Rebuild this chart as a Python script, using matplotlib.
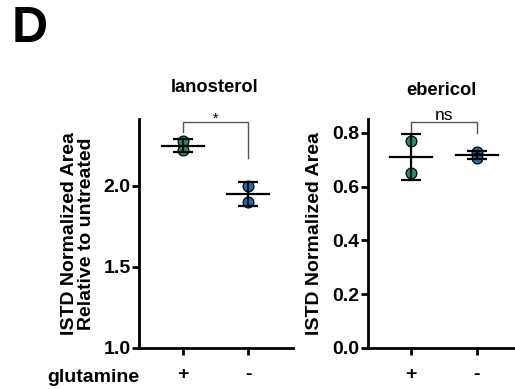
import numpy as np
import matplotlib
matplotlib.use("Agg")
import matplotlib.pyplot as plt

plt.rcParams["font.family"] = ["Liberation Sans", "DejaVu Sans"]
plt.rcParams["font.weight"] = "bold"

groups = ["+", "-"]
lanosterol_plus = [2.272, 2.217]
lanosterol_minus = [2.000, 1.898]
ebericol_plus = [0.770, 0.650]
ebericol_minus = [0.728, 0.706]

green = "#17966c"
blue = "#1c70b1"

fig = plt.figure(figsize=(5.15, 3.89), dpi=100)
ax1 = fig.add_axes([0.270, 0.1054, 0.299, 0.589])
ax2 = fig.add_axes([0.7146, 0.1054, 0.285, 0.589])


def draw_panel(ax, plus, minus):
    for i, (vals, col) in enumerate([(plus, green), (minus, blue)]):
        vals = np.array(vals)
        m = vals.mean()
        sd = vals.std(ddof=1)
        ax.scatter([i] * len(vals), vals, s=60, color=col, edgecolor="black",
                   linewidth=0.9, zorder=3)
        ax.errorbar(i, m, yerr=sd, fmt="none", ecolor="black", elinewidth=1.6,
                    capsize=7, capthick=1.6, zorder=4)
        ax.plot([i - 0.32, i + 0.32], [m, m], color="black", lw=1.6, zorder=4)
    for s in ["top", "right"]:
        ax.spines[s].set_visible(False)
    for s in ["left", "bottom"]:
        ax.spines[s].set_linewidth(2)
    ax.tick_params(width=2, length=5, labelsize=14)
    ax.tick_params(axis="y", pad=1)
    ax.set_xticks([0, 1])
    ax.set_xticklabels(groups, fontsize=14, fontweight="bold")
    ax.tick_params(axis="x", pad=8)


draw_panel(ax1, lanosterol_plus, lanosterol_minus)
ax1.set_xlim(-0.68, 1.69)
ax1.set_ylim(1.0, 2.41)
ax1.set_yticks([1.0, 1.5, 2.0])
ax1.set_yticklabels(["1.0", "1.5", "2.0"])
ax1.set_ylabel("ISTD Normalized Area\nRelative to untreated", fontsize=14,
               fontweight="bold", linespacing=1.0)
ax1.yaxis.set_label_coords(-0.286, 0.5)
ax1.text(0.49, 1.135, "lanosterol", transform=ax1.transAxes, ha="center",
         va="center", fontsize=13.2, fontweight="bold")
ax1.plot([0, 0, 1, 1], [2.33, 2.39, 2.39, 2.17], color="#555555", lw=1.0,
         clip_on=False)
ax1.text(0.5, 2.41, "*", ha="center", va="center", fontsize=10,
         fontweight="normal")

draw_panel(ax2, ebericol_plus, ebericol_minus)
ax2.set_xlim(-0.65, 1.58)
ax2.set_ylim(0, 0.852)
ax2.set_yticks([0.0, 0.2, 0.4, 0.6, 0.8])
ax2.set_yticklabels(["0.0", "0.2", "0.4", "0.6", "0.8"])
ax2.set_ylabel("ISTD Normalized Area", fontsize=14, fontweight="bold")
ax2.yaxis.set_label_coords(-0.306, 0.5)
ax2.text(0.50, 1.125, "ebericol", transform=ax2.transAxes, ha="center",
         va="center", fontsize=13.2, fontweight="bold")
ax2.plot([0, 0, 1, 1], [0.80, 0.84, 0.84, 0.80], color="#555555", lw=1.0,
         clip_on=False)
ax2.text(0.5, 0.865, "ns", ha="center", va="center", fontsize=12.5,
         fontweight="normal")

fig.text(12 / 515, 1 - 29 / 389, "D", fontsize=36, fontweight="bold",
         ha="left", va="center")
fig.text(93 / 515, 1 - 378 / 389, "glutamine", fontsize=14,
         fontweight="bold", ha="center", va="center")

fig.savefig("out.png", dpi=100)
